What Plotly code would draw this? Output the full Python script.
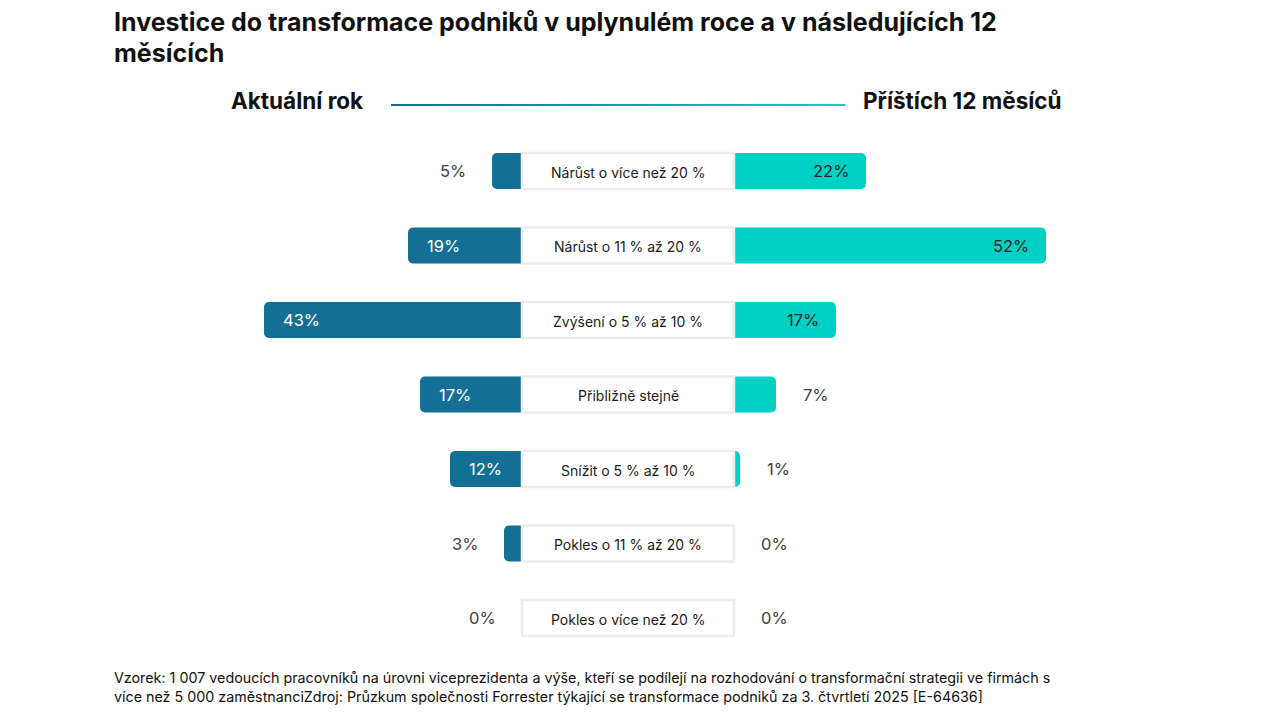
import plotly.graph_objects as go

categories = ["Nárůst o více než 20 %", "Nárůst o 11 % až 20 %", "Zvýšení o 5 % až 10 %",
              "Přibližně stejně", "Snížit o 5 % až 10 %", "Pokles o 11 % až 20 %",
              "Pokles o více než 20 %"]
current_year = [5, 19, 43, 17, 12, 3, 0]
next_12_months = [22, 52, 17, 7, 1, 0, 0]
left_title = "Aktuální rok"
right_title = "Příštích 12 měsíců"
title_lines = ["Investice do transformace podniků v uplynulém roce a v následujících 12", "měsících"]
footnote = ("Vzorek: 1 007 vedoucích pracovníků na úrovni viceprezidenta a výše, kteří se podílejí na "
            "rozhodování o transformační strategii ve firmách s<br>více než 5 000 zaměstnanciZdroj: "
            "Průzkum společnosti Forrester týkající se transformace podniků za 3. čtvrtletí 2025 [E-64636]")

W, Hpx = 1280, 720
OFF = 8             # page offset of the plot div
PX = 6.0            # pixels per percentage point
CX = 628 - OFF      # center pixel
HALF = 106 / PX     # half width of label box in data units
EXT = 1.0           # hidden overlap under the label box
ROW0, ROWSTEP = 171 - OFF, 74.5
BARW = 36 / ROWSTEP

LEFT_C = "#136f94"
RIGHT_C = "#00d1c4"
FONT = "Inter"

xr = [-CX / PX, (W - CX) / PX]
yr = [(Hpx - ROW0) / ROWSTEP, (0 - ROW0) / ROWSTEP]

idx = list(range(len(categories)))


def px_x(p):
    return (p - OFF) / W


def px_y(p):
    return 1 - (p - OFF) / Hpx


fig = go.Figure()
fig.add_trace(go.Bar(
    y=idx, x=[-(v + EXT) if v > 0 else None for v in current_year],
    base=-(HALF - EXT), orientation="h", width=BARW,
    marker=dict(color=LEFT_C, cornerradius=5, line=dict(width=0)),
    hoverinfo="skip", showlegend=False))
fig.add_trace(go.Bar(
    y=idx, x=[(v + EXT) if v > 0 else None for v in next_12_months],
    base=(HALF - EXT), orientation="h", width=BARW,
    marker=dict(color=RIGHT_C, cornerradius=5, line=dict(width=0)),
    hoverinfo="skip", showlegend=False))

shapes = []
annotations = []
for i, cat in enumerate(categories):
    shapes.append(dict(type="rect", xref="x", yref="y", x0=-HALF, x1=HALF,
                       y0=i - BARW / 2, y1=i + BARW / 2, fillcolor="white",
                       line=dict(color="#ececec", width=2.5), layer="above"))
    annotations.append(dict(x=0, y=i, xref="x", yref="y", text=cat, showarrow=False,
                            font=dict(family=FONT, size=14, color="#1a1a1a"), yshift=-1))
    lv = current_year[i]
    lend = -HALF - lv
    if lv >= 10:
        annotations.append(dict(x=lend, y=i, xref="x", yref="y", text=f"{lv}%", showarrow=False,
                                xanchor="left", xshift=17,
                                font=dict(family=FONT, size=16.5, color="white")))
    else:
        annotations.append(dict(x=lend, y=i, xref="x", yref="y", text=f"{lv}%", showarrow=False,
                                xanchor="right", xshift=-24,
                                font=dict(family=FONT, size=16.5, color="#404040")))
    rv = next_12_months[i]
    rend = HALF + rv
    if rv >= 10:
        annotations.append(dict(x=rend, y=i, xref="x", yref="y", text=f"{rv}%", showarrow=False,
                                xanchor="right", xshift=-15,
                                font=dict(family=FONT, size=16.5, color="#222222")))
    else:
        annotations.append(dict(x=rend, y=i, xref="x", yref="y", text=f"{rv}%", showarrow=False,
                                xanchor="left", xshift=25,
                                font=dict(family=FONT, size=16.5, color="#404040")))

# header gradient line
x0p, x1p, yp = 391, 845, 105
nseg = 40
c0 = (0x13, 0x6f, 0x94)
c1 = (0x00, 0xd1, 0xc4)
for k in range(nseg):
    t = k / (nseg - 1)
    col = "rgb({},{},{})".format(*[round(a + (b - a) * t) for a, b in zip(c0, c1)])
    xa = x0p + (x1p - x0p) * k / nseg
    xb = x0p + (x1p - x0p) * (k + 1) / nseg + 0.5
    shapes.append(dict(type="line", xref="paper", yref="paper",
                       x0=px_x(xa), x1=px_x(xb), y0=px_y(yp), y1=px_y(yp),
                       line=dict(color=col, width=2)))

annotations.append(dict(x=px_x(365), y=px_y(101), xref="paper", yref="paper", text=f"<b>{left_title}</b>",
                        showarrow=False, xanchor="right", yanchor="middle",
                        font=dict(family=FONT, size=22.5, color="#111111")))
annotations.append(dict(x=px_x(861), y=px_y(101), xref="paper", yref="paper", text=f"<b>{right_title}</b>",
                        showarrow=False, xanchor="left", yanchor="middle",
                        font=dict(family=FONT, size=22.5, color="#111111")))
for line, ypix in zip(title_lines, [22, 53]):
    annotations.append(dict(x=px_x(112), y=px_y(ypix), xref="paper", yref="paper", text=f"<b>{line}</b>",
                            showarrow=False, xanchor="left", yanchor="middle", align="left",
                            font=dict(family=FONT, size=25, color="#111111")))
annotations.append(dict(x=px_x(112), y=px_y(667), xref="paper", yref="paper", text=footnote,
                        showarrow=False, xanchor="left", yanchor="top", align="left",
                        font=dict(family=FONT, size=14.3, color="#111111")))

fig.update_layout(
    width=W, height=Hpx, margin=dict(l=0, r=0, t=0, b=0),
    paper_bgcolor="white", plot_bgcolor="white", barmode="overlay",
    xaxis=dict(range=xr, visible=False, fixedrange=True),
    yaxis=dict(range=yr, visible=False, fixedrange=True),
    shapes=shapes, annotations=annotations,
)
fig.write_html("out.html")
